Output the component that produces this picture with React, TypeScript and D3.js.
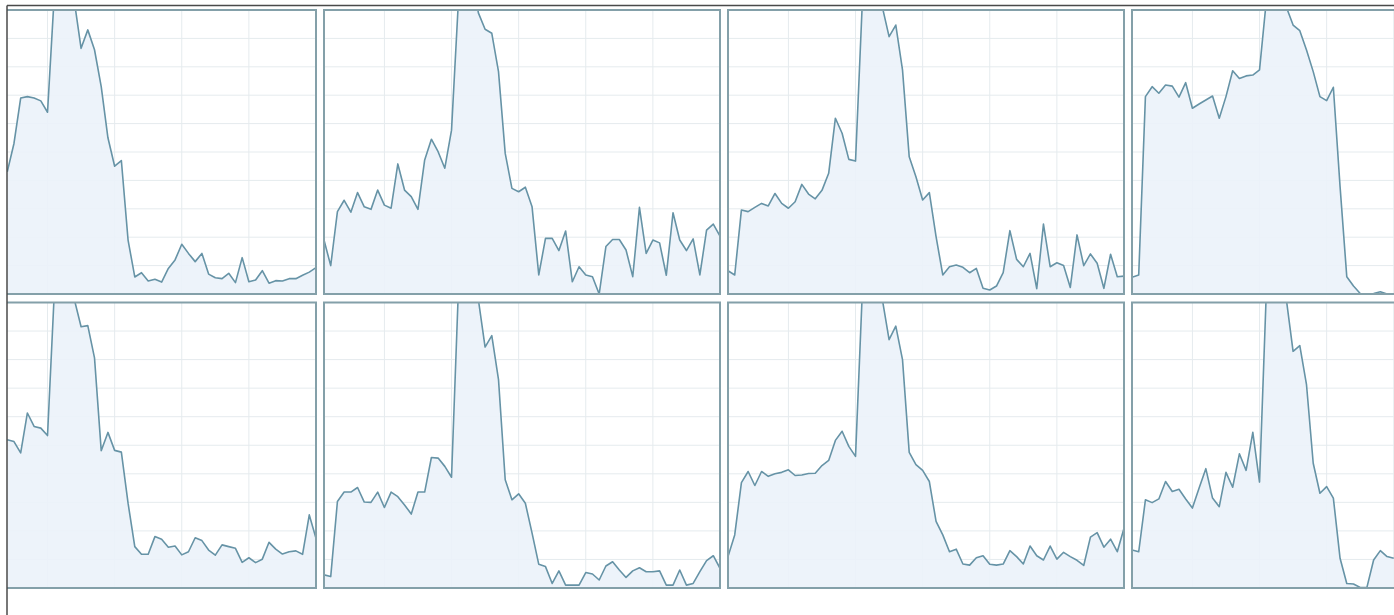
import React from "react";
import * as d3 from "d3";

// ---- data (value scale 0..100 = panel height, values > 100 are clipped at top) ----
const POINTS = 60;
const gridIdx = [9, 19, 29, 39, 49];
const gridVal = [10, 20, 30, 40, 50, 60, 70, 80, 90];

// start offsets: panels in the first column are cut off on the left
const p1Start = 13;
const p1 = [43, 53, 69, 69.5, 69, 68, 64, 105, 118, 112, 103, 86.5, 93, 86, 73, 55, 45, 47, 19, 6, 7.5, 4.6, 5.2, 4.2, 9, 12, 17.5, 14.3, 11.4, 14.3, 7, 5.7, 5.4, 7.3, 4, 12.8, 4.3, 4.9, 8.2, 3.8, 4.7, 4.6, 5.4, 5.4, 6.6, 7.7, 9.3];
const p2Start = 0;
const p2 = [19, 10, 29, 33, 28.8, 35.7, 30.7, 29.8, 36.6, 31.3, 30.2, 45.8, 36.6, 34.3, 29.8, 47.2, 54.5, 50.1, 44.3, 57.7, 102, 115, 112, 99, 93.2, 91.8, 78.3, 49.5, 37.2, 36, 37.6, 30.7, 6.7, 19.6, 19.6, 15.3, 22.2, 4.3, 9.6, 6.7, 6.1, 0, 16.7, 19.2, 19.2, 15.5, 6.1, 30.5, 14.3, 19, 18, 6.6, 28.6, 19, 15.3, 19.4, 6.7, 22.5, 24.6, 20.4];
const p3Start = 0;
const p3 = [8.2, 6.7, 29.6, 29, 30.5, 31.9, 31, 35.4, 31.9, 30.2, 32.5, 38.6, 35.2, 33.5, 36.5, 42.5, 61.9, 56.6, 47.4, 46.8, 102, 118, 115, 101, 90.6, 94.7, 78.9, 48.3, 41.3, 33.1, 35.7, 20.2, 6.7, 9.6, 10.2, 9.4, 7.5, 9, 2, 1.4, 2.8, 7.5, 22.3, 12.2, 9.6, 14.3, 1.9, 24.6, 9.6, 11, 10, 2.3, 20.8, 10, 14.1, 10.8, 2, 14, 6.1, 6.3];
const p4Start = 0;
const p4 = [5.9, 6.7, 69.5, 73, 70.7, 73.6, 73.2, 69.3, 74.4, 65.4, 66.9, 68.3, 69.7, 61.9, 69.5, 78.6, 75.9, 76.8, 77.1, 78.9, 103, 120, 115, 101, 94.7, 92.7, 85.9, 78.3, 69.5, 68.1, 72.8, 37.8, 6.1, 2.8, 0.2, 0, 0.2, 0.8, 0, 0];
const p5Start = 13;
const p5 = [51.9, 51.3, 47.3, 61.3, 56.6, 56, 53.4, 103, 118, 112, 101, 91.5, 91.9, 80.6, 48.1, 54.5, 48.2, 47.6, 29.7, 14.5, 11.8, 11.8, 18, 17.1, 14.3, 14.7, 11.6, 12.7, 17.6, 16.6, 13.3, 11.5, 15.1, 14.5, 13.9, 9, 10.6, 8.9, 10.1, 16, 13.6, 11.9, 12.7, 13, 11.8, 25.6, 17.4];
const p6Start = 0;
const p6 = [4.6, 4, 30.3, 33.6, 33.6, 35.2, 30.1, 30, 33.6, 28.2, 33.6, 32, 29.1, 25.9, 33.6, 33.6, 45.7, 45.5, 42.6, 38.8, 103, 118, 112, 101, 84.4, 88.4, 73, 37.9, 30.9, 33, 29.7, 19.2, 8.3, 7.5, 1.6, 6, 1, 1, 1, 5.4, 4.9, 2.8, 7.7, 9.2, 6.3, 3.7, 6, 7.1, 5.7, 5.7, 6, 1, 1, 6.3, 1, 1.6, 5.7, 9.6, 11.3, 6.9];
const p7Start = 0;
const p7 = [11, 18.6, 36.9, 40.8, 35.9, 40.8, 39.1, 40, 40.5, 41.4, 39.4, 39.6, 40.1, 40.2, 42.9, 44.7, 51.7, 54.9, 49.6, 46.1, 103, 118, 112, 101, 87, 91.7, 80, 47.5, 43.2, 41.2, 37.3, 23.3, 18.6, 12.7, 13.6, 8.4, 8, 10.6, 11.3, 8.3, 8, 8.4, 13.1, 11, 8.4, 14.7, 11.3, 9.8, 14.7, 10.1, 12.5, 11, 9.7, 7.9, 17.8, 19.4, 14.3, 17.1, 12.7, 20.9];
const p8Start = 0;
const p8 = [13.3, 12.7, 30.9, 29.9, 31.2, 37.3, 33.8, 34.6, 31.2, 28, 35, 41.8, 31.5, 28.5, 40.5, 35.3, 47, 41.2, 54.5, 37.1, 103, 118, 112, 101, 82.9, 84.9, 71.2, 43.7, 33.2, 35.5, 31.5, 10.4, 1.6, 1.4, 0.2, 0.2, 9.8, 13.1, 11, 10.4];

const panels = [
  { row: 0, col: 0, start: p1Start, values: p1 },
  { row: 0, col: 1, start: p2Start, values: p2 },
  { row: 0, col: 2, start: p3Start, values: p3 },
  { row: 0, col: 3, start: p4Start, values: p4 },
  { row: 1, col: 0, start: p5Start, values: p5 },
  { row: 1, col: 1, start: p6Start, values: p6 },
  { row: 1, col: 2, start: p7Start, values: p7 },
  { row: 1, col: 3, start: p8Start, values: p8 },
];

// ---- layout ----
const W = 1394;
const H = 615;
const colLeft = [-80, 324, 728, 1132];
const panelW = 396;
const rowTop = [10, 302.5];
const rowBottom = [294, 588];
const frameX = 7;
const frameY = 5.5;

const LINE = "#6693a6";
const FILL = "#ebf2f9";
const BORDER = "#84a0a9";
const GRID = "#e5ebee";

function Panel({ p, i }: { p: (typeof panels)[number]; i: number }) {
  const left = colLeft[p.col];
  const top = rowTop[p.row];
  const bottom = rowBottom[p.row];
  const x = d3.scaleLinear().domain([0, POINTS - 1]).range([left, left + panelW]);
  const y = d3.scaleLinear().domain([0, 100]).range([bottom, top]);
  const data = p.values.map((v, k) => ({ i: p.start + k, v }));
  const area = d3
    .area<{ i: number; v: number }>()
    .x((d) => x(d.i))
    .y0(bottom)
    .y1((d) => y(d.v));
  const line = d3
    .line<{ i: number; v: number }>()
    .x((d) => x(d.i))
    .y((d) => y(d.v));
  const clipId = `clip-${i}`;
  return (
    <g>
      <clipPath id={clipId}>
        <rect x={Math.max(left, frameX)} y={top} width={left + panelW - Math.max(left, frameX)} height={bottom - top} />
      </clipPath>
      <g clipPath={`url(#${clipId})`}>
        <rect x={left} y={top} width={panelW} height={bottom - top} fill="#ffffff" />
        {gridVal.map((g) => (
          <line key={`h${g}`} x1={left} x2={left + panelW} y1={y(g)} y2={y(g)} stroke={GRID} strokeWidth={1} />
        ))}
        {gridIdx.map((g) => (
          <line key={`v${g}`} x1={x(g)} x2={x(g)} y1={top} y2={bottom} stroke={GRID} strokeWidth={1} />
        ))}
        <path d={area(data) || ""} fill={FILL} fillOpacity={0.9} />
        <path d={line(data) || ""} fill="none" stroke={LINE} strokeWidth={1.6} strokeLinejoin="round" />
      </g>
      <rect
        x={left}
        y={top}
        width={panelW}
        height={bottom - top}
        fill="none"
        stroke={BORDER}
        strokeWidth={2}
      />
    </g>
  );
}

export default function App() {
  return (
    <svg
      width={W}
      height={H}
      style={{ position: "absolute", left: 0, top: 0, background: "#ffffff" }}
    >
      <defs>
        <clipPath id="frame">
          <rect x={frameX} y={frameY} width={W - frameX} height={H - frameY} />
        </clipPath>
      </defs>
      <rect x={0} y={0} width={W} height={H} fill="#ffffff" />
      <g clipPath="url(#frame)">
        {panels.map((p, i) => (
          <Panel key={i} p={p} i={i} />
        ))}
      </g>
      <line x1={frameX} x2={W} y1={frameY} y2={frameY} stroke="#4a4a4a" strokeWidth={1.5} />
      <line x1={frameX} x2={frameX} y1={frameY} y2={H} stroke="#4a4a4a" strokeWidth={1.5} />
    </svg>
  );
}
